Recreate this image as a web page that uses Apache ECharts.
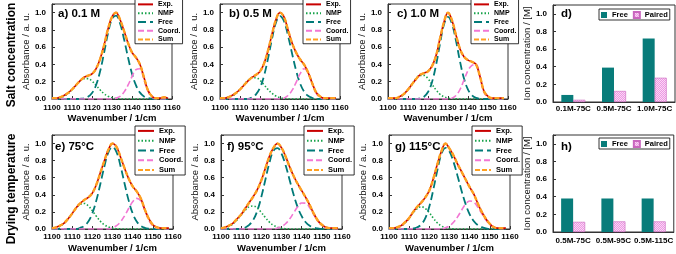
<!DOCTYPE html>
<html>
<head>
<meta charset="utf-8">
<script src="https://cdn.jsdelivr.net/npm/echarts@6/dist/echarts.min.js"></script>
<style>
  html, body { margin: 0; padding: 0; background: #fff; }
  #chart { width: 676px; height: 254px; }
</style>
</head>
<body>
<div id="chart"></div>
<script>
// wavenumber grid (1/cm)
const wn = [1100, 1102, 1104, 1106, 1108, 1110, 1112, 1114, 1116, 1118, 1120, 1122, 1124, 1126, 1128,
            1130, 1132, 1134, 1136, 1138, 1140, 1142, 1144, 1146, 1148, 1150, 1152, 1154, 1156, 1158];

// a) 0.1 M
const expA   = [.01,.01,.02,.04,.07,.11,.16,.21,.25,.27,.29,.35,.46,.62,.81,.95,1.0,.92,.79,.65,.54,.48,.40,.25,.10,.03,.01,.01,.02,.01];
const nmpA   = [.002,.006,.015,.032,.062,.107,.159,.207,.236,.236,.207,.159,.107,.062,.032,.015,.006,.002,0,0,0,0,0,0,0,0,0,0,0,0];
const freeA  = [0,0,0,0,0,0,0,.002,.008,.025,.069,.159,.315,.530,.760,.927,.965,.877,.694,.483,.292,.157,.074,.030,.011,.003,0,0,0,0];
const coordA = [0,0,0,0,0,0,0,0,0,0,0,0,0,0,0,0,.01,.03,.08,.16,.26,.34,.35,.22,.09,.02,0,0,0,0];

// b) 0.5 M
const expB   = [.01,.01,.02,.04,.07,.11,.16,.21,.25,.28,.32,.41,.56,.75,.92,1.0,.95,.80,.65,.54,.46,.40,.31,.19,.08,.03,.01,.01,.01,.01];
const nmpB   = [.002,.006,.016,.034,.065,.111,.165,.216,.246,.246,.216,.165,.111,.065,.034,.016,.006,.002,0,0,0,0,0,0,0,0,0,0,0,0];
const freeB  = [0,0,0,0,0,0,0,0,.019,.054,.130,.267,.468,.697,.886,.960,.900,.735,.530,.335,.183,.088,.037,.014,.004,0,0,0,0,0];
const coordB = [0,0,0,0,0,0,0,0,0,0,0,0,0,0,0,0,.01,.04,.10,.19,.29,.35,.31,.19,.07,.02,0,0,0,0];

// c) 1.0 M
const expC   = [.01,.01,.01,.03,.06,.11,.17,.23,.28,.30,.32,.38,.50,.70,.89,1.0,.91,.74,.58,.49,.45,.43,.40,.26,.09,.03,.01,.01,.01,.01];
const nmpC   = [.001,.003,.010,.025,.055,.105,.170,.234,.274,.274,.234,.170,.105,.055,.025,.010,.003,.001,0,0,0,0,0,0,0,0,0,0,0,0];
const freeC  = [0,0,0,0,0,0,0,0,.008,.027,.081,.195,.391,.639,.862,.950,.869,.673,.435,.236,.109,.042,.013,.004,0,0,0,0,0,0];
const coordC = [0,0,0,0,0,0,0,0,0,0,0,0,0,0,0,0,.01,.04,.11,.22,.33,.39,.40,.25,.08,.02,0,0,0,0];

// e) 75 °C
const expE   = [.01,.02,.04,.07,.12,.18,.25,.30,.34,.37,.42,.52,.66,.80,.93,1.0,.96,.84,.71,.59,.50,.44,.36,.23,.12,.05,.02,.01,.01,.01];
const nmpE   = [.006,.015,.034,.067,.119,.182,.245,.289,.299,.271,.215,.149,.090,.049,.023,.009,.003,.001,0,0,0,0,0,0,0,0,0,0,0,0];
const freeE  = [0,0,0,0,0,0,0,.014,.037,.088,.183,.335,.530,.735,.900,.960,.900,.735,.530,.335,.183,.088,.037,.014,.004,0,0,0,0,0];
const coordE = [0,0,0,0,0,0,0,0,0,0,0,0,0,0,0,.016,.040,.085,.155,.240,.318,.358,.330,.220,.105,.036,.009,.002,0,0];

// f) 95 °C
const expF   = [.01,.02,.04,.07,.12,.17,.24,.31,.38,.46,.57,.71,.85,.95,1.0,.95,.85,.73,.62,.53,.45,.37,.28,.18,.10,.05,.02,.01,.01,.01];
const nmpF   = [.005,.014,.031,.060,.107,.164,.220,.260,.269,.244,.193,.134,.081,.044,.021,.008,.003,.001,0,0,0,0,0,0,0,0,0,0,0,0];
const freeF  = [0,0,0,0,0,0,.018,.048,.107,.213,.376,.577,.774,.916,.946,.882,.749,.577,.403,.256,.150,.079,.038,.016,.006,0,0,0,0,0];
const coordF = [0,0,0,0,0,0,0,0,0,0,0,0,0,0,.011,.028,.061,.116,.188,.259,.304,.303,.248,.168,.092,.042,.016,.005,.001,0];

// g) 115 °C
const expG   = [.01,.01,.02,.04,.08,.13,.20,.26,.31,.37,.45,.59,.76,.91,1.0,.94,.86,.76,.67,.58,.49,.41,.30,.20,.12,.06,.02,.01,.01,.01];
const nmpG   = [.002,.005,.015,.035,.072,.127,.189,.240,.260,.240,.189,.127,.072,.035,.015,.005,.002,0,0,0,0,0,0,0,0,0,0,0,0,0];
const freeG  = [0,0,0,0,0,0,.006,.019,.053,.128,.264,.463,.690,.877,.950,.905,.784,.621,.446,.291,.172,.094,.046,.021,.008,0,0,0,0,0];
const coordG = [0,0,0,0,0,0,0,0,0,0,0,0,0,0,.015,.036,.078,.142,.220,.291,.328,.315,.258,.180,.107,.054,.023,.009,.003,0];

// d) / h) ion concentrations [M]
const catsD = ['0.1M-75C', '0.5M-75C', '1.0M-75C'];
const freeD = [0.08, 0.39, 0.72];
const pairedD = [0.025, 0.125, 0.275];
const catsH = ['0.5M-75C', '0.5M-95C', '0.5M-115C'];
const freeH = [0.38, 0.38, 0.38];
const pairedH = [0.115, 0.12, 0.12];

const FONT = '"Liberation Sans", Arial, sans-serif';

const spectra = [
  { label: 'a) 0.1 M', exp: expA, nmp: nmpA, free: freeA, coord: coordA, grid: 0 },
  { label: 'b) 0.5 M', exp: expB, nmp: nmpB, free: freeB, coord: coordB, grid: 1 },
  { label: 'c) 1.0 M', exp: expC, nmp: nmpC, free: freeC, coord: coordC, grid: 2 },
  { label: 'e) 75°C',  exp: expE, nmp: nmpE, free: freeE, coord: coordE, grid: 4 },
  { label: 'f) 95°C',  exp: expF, nmp: nmpF, free: freeF, coord: coordF, grid: 5 },
  { label: 'g) 115°C', exp: expG, nmp: nmpG, free: freeG, coord: coordG, grid: 6 },
];

// grid boxes: a b c d / e f g h
const grids = [
  { left: 52,  top: 4,   width: 120, height: 95 },
  { left: 220, top: 4,   width: 120, height: 95 },
  { left: 388, top: 4,   width: 120, height: 95 },
  { left: 553, top: 5,   width: 122, height: 97 },
  { left: 52,  top: 135, width: 121, height: 96 },
  { left: 221, top: 135, width: 121, height: 96 },
  { left: 389, top: 135, width: 121, height: 96 },
  { left: 553, top: 135, width: 122, height: 97 },
];

const lineStyles = {
  'NMP':    { color: '#17a34a', width: 1.6, type: [1.5, 2] },
  'Free':   { color: '#007a78', width: 1.8, type: [8, 4] },
  'Coord.': { color: '#f277d4', width: 1.6, type: [6, 3] },
  'Exp.':   { color: '#c80000', width: 1.6, type: 'solid' },
  'Sum':    { color: '#ffa020', width: 2.4, type: [5, 2] },
};

// checkered pink fill for the "Paired" bars
const pc = document.createElement('canvas');
pc.width = 2; pc.height = 2;
const pctx = pc.getContext('2d');
pctx.fillStyle = '#ec98e2';
pctx.fillRect(0, 0, 2, 2);
pctx.fillStyle = '#fbd8f6';
pctx.fillRect(0, 0, 1, 1);
pctx.fillRect(1, 1, 1, 1);

const labelStyle = { fontFamily: FONT, fontSize: 8, fontWeight: 'bold', color: '#000' };
const tickFmt = (v) => (v > 1.05 ? '' : v.toFixed(1));

const xAxes = [];
const yAxes = [];
const series = [];
const legends = [];
const titles = [];

grids.forEach((g, i) => {
  const isBar = i === 3 || i === 7;
  const bottomRow = i >= 4;
  yAxes.push({
    type: 'value', gridIndex: i, min: 0, max: 1.1, interval: 0.2,
    name: isBar ? 'Ion concentration / [M]' : 'Absorbance / a. u.',
    nameLocation: 'middle', nameGap: isBar ? 17 : 19,
    nameTextStyle: { fontFamily: FONT, fontSize: 9.5, color: '#111' },
    axisLine: { show: true, lineStyle: { color: '#333', width: 1 } },
    axisTick: { show: true, inside: true, length: 3, lineStyle: { color: '#333' } },
    axisLabel: { ...labelStyle, margin: 6, formatter: tickFmt },
    splitLine: { show: false },
  });
  if (isBar) {
    xAxes.push({
      type: 'category', gridIndex: i, data: i === 3 ? catsD : catsH,
      axisLine: { lineStyle: { color: '#333' } },
      axisTick: { show: false },
      axisLabel: { ...labelStyle, margin: i === 3 ? 3 : 5, interval: 0 },
    });
  } else {
    xAxes.push({
      type: 'value', gridIndex: i, min: 1100, max: 1160, interval: 10,
      name: 'Wavenumber / 1/cm', nameLocation: 'middle', nameGap: 14,
      nameTextStyle: { fontFamily: FONT, fontSize: 9.5, fontWeight: 'bold', color: '#000' },
      axisLine: { lineStyle: { color: '#333' } },
      axisTick: { show: true, inside: true, length: 3, lineStyle: { color: '#333' } },
      axisLabel: { ...labelStyle, margin: bottomRow ? 4 : 5, formatter: (v) => String(v) },
      splitLine: { show: false },
    });
  }
});

spectra.forEach((p) => {
  // the fitted sum lies on top of the measured trace
  const order = [['NMP', p.nmp], ['Free', p.free], ['Coord.', p.coord], ['Exp.', p.exp], ['Sum', p.exp]];
  order.forEach(([name, arr]) => {
    series.push({
      name, type: 'line', xAxisIndex: p.grid, yAxisIndex: p.grid,
      data: wn.map((x, k) => [x, arr[k]]),
      smooth: 0.4, symbol: 'none', silent: true,
      lineStyle: lineStyles[name],
      itemStyle: { color: lineStyles[name].color },
    });
  });
  const g = grids[p.grid];
  const bottomRow = p.grid >= 4;
  legends.push({
    data: ['Exp.', 'NMP', 'Free', 'Coord.', 'Sum'],
    orient: 'vertical', left: g.left + 83, top: bottomRow ? 126 : -1,
    itemWidth: bottomRow ? 16 : 15, itemHeight: 6, itemGap: 0,
    itemStyle: { opacity: 0 },
    padding: bottomRow ? [0, 2, 0, 2] : [1, 2, 0, 2],
    backgroundColor: '#fff', borderColor: '#000', borderWidth: 0.8,
    selectedMode: false,
    textStyle: { fontFamily: FONT, fontSize: bottomRow ? 7.5 : 7, fontWeight: 'bold', color: '#000',
                 lineHeight: bottomRow ? 9.8 : 8.75 },
  });
  titles.push({
    text: p.label, left: g.left + (bottomRow ? 3 : 6) + (p.grid === 0 || p.grid === 4 ? 0 : 3), top: bottomRow ? 141 : 8, padding: 0,
    textStyle: { fontFamily: FONT, fontSize: 11.5, fontWeight: 'bold', color: '#000' },
  });
});

[[3, freeD, pairedD, 'd)'], [7, freeH, pairedH, 'h)']].forEach(([gi, fv, pv, lab]) => {
  series.push({
    name: 'Free ', type: 'bar', xAxisIndex: gi, yAxisIndex: gi, data: fv,
    barWidth: 12, barGap: '0%', silent: true,
    itemStyle: { color: '#087c7a' },
  });
  series.push({
    name: 'Paired', type: 'bar', xAxisIndex: gi, yAxisIndex: gi, data: pv,
    barWidth: 12, barGap: '0%', silent: true,
    itemStyle: { color: { image: pc, repeat: 'repeat' }, borderColor: '#c965be', borderWidth: 0.6 },
  });
  legends.push({
    data: ['Free ', 'Paired'], orient: 'horizontal',
    left: 599, top: gi === 3 ? 9 : 138, width: 76,
    icon: 'rect', itemWidth: 6, itemHeight: 6, itemGap: 5,
    padding: [2, 2, 1, 2], selectedMode: false,
    backgroundColor: '#fff', borderColor: '#000', borderWidth: 0.8,
    formatter: (n) => n.trim(),
    textStyle: { fontFamily: FONT, fontSize: 7.5, fontWeight: 'bold', color: '#000' },
  });
  titles.push({
    text: lab, left: 561, top: gi === 3 ? 8 : 141, padding: 0,
    textStyle: { fontFamily: FONT, fontSize: 11.5, fontWeight: 'bold', color: '#000' },
  });
});

const chart = echarts.init(document.getElementById('chart'), null, { renderer: 'canvas' });
chart.setOption({
  animation: false,
  backgroundColor: '#fff',
  grid: grids.map((g) => ({ ...g, show: true, borderColor: '#333', borderWidth: 1, backgroundColor: 'transparent' })),
  xAxis: xAxes,
  yAxis: yAxes,
  legend: legends,
  title: titles,
  series,
  graphic: [
    { type: 'text', x: 12, y: 55, rotation: Math.PI / 2,
      style: { text: 'Salt concentration', font: 'bold 12px "Liberation Sans", Arial, sans-serif', fill: '#000', align: 'center', verticalAlign: 'middle' } },
    { type: 'text', x: 12, y: 189, rotation: Math.PI / 2,
      style: { text: 'Drying temperature', font: 'bold 12px "Liberation Sans", Arial, sans-serif', fill: '#000', align: 'center', verticalAlign: 'middle' } },
  ],
});
</script>
</body>
</html>
